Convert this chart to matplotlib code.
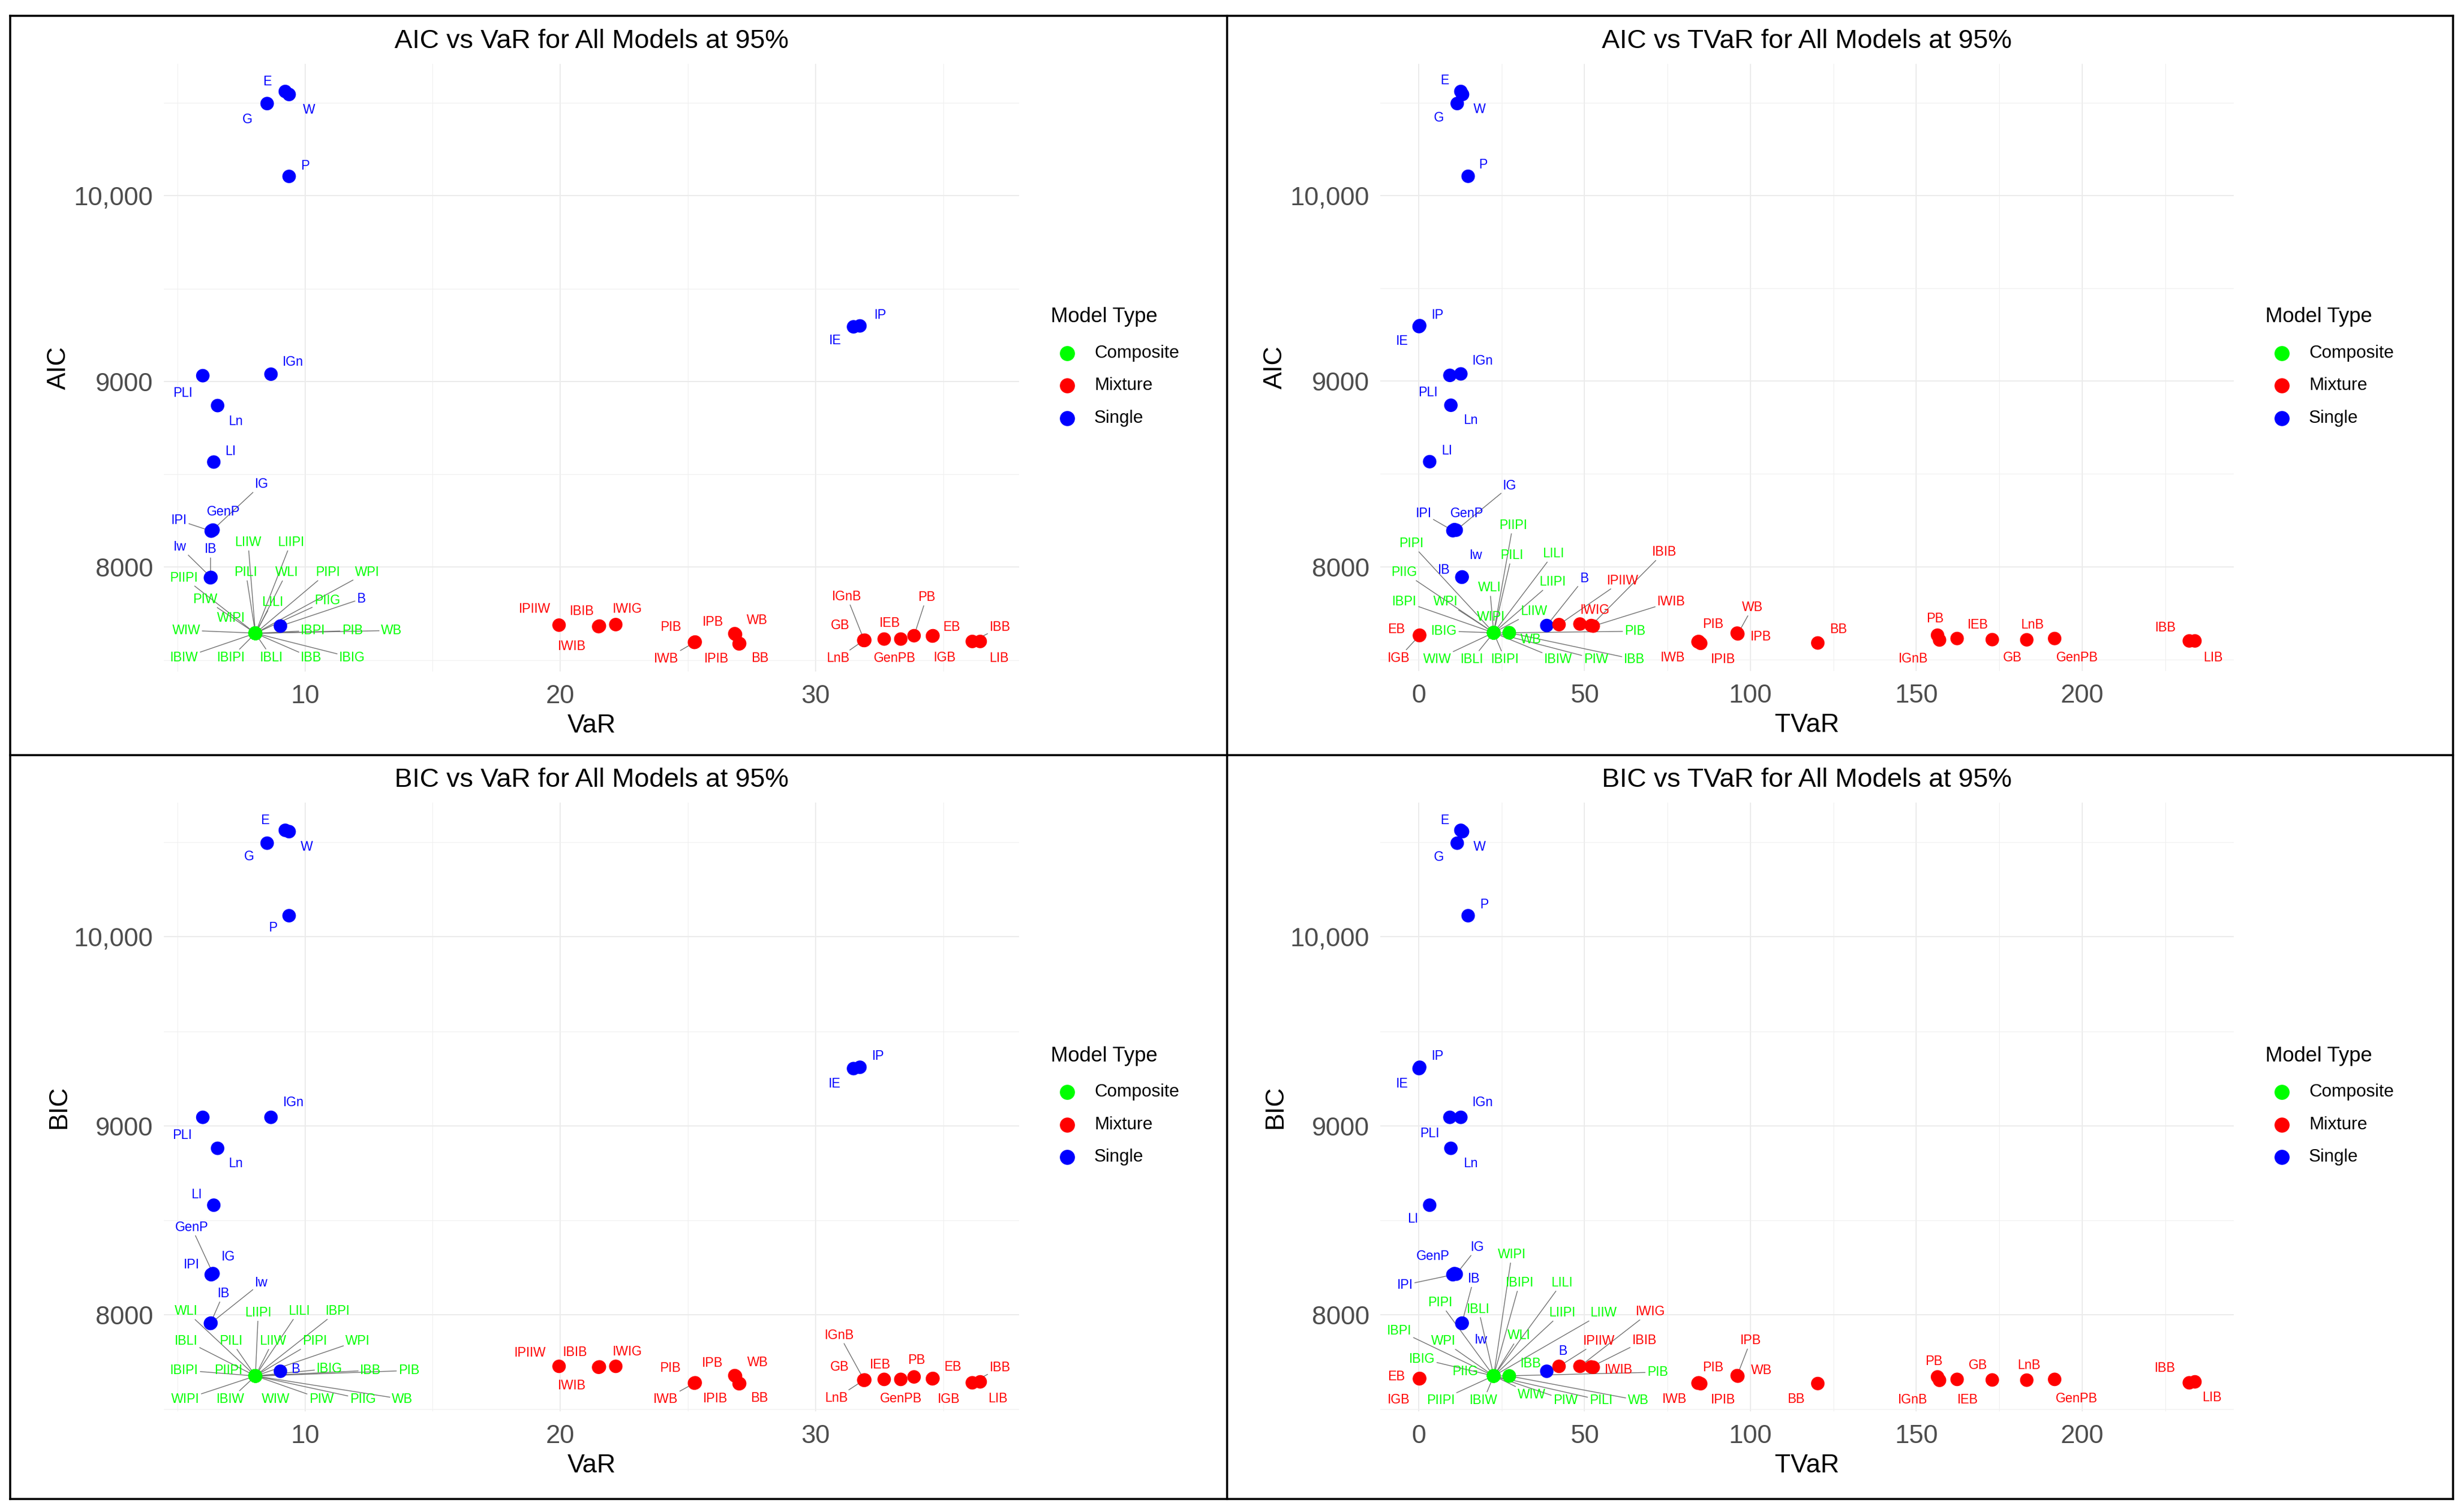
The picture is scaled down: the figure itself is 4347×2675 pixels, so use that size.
import matplotlib
matplotlib.use("Agg")
import matplotlib.pyplot as plt
from matplotlib.lines import Line2D
from matplotlib.ticker import FuncFormatter
import numpy as np

plt.rcParams['font.family'] = ['Liberation Sans', 'DejaVu Sans']

W, H = 4347, 2675
DPI = 200

# ============================================
# DATA
# ============================================
single_names = ['E', 'W', 'G', 'P', 'IP', 'IE', 'PLI', 'IGn', 'Ln', 'LI',
                'IG', 'GenP', 'IPI', 'IB', 'Iw', 'B']
single_var = [9.23, 9.38, 8.52, 9.38, 31.73, 31.48, 6.00, 8.67, 6.58, 6.43,
              6.36, 6.40, 6.33, 6.30, 6.32, 9.04]
single_tvar = [12.7, 13.2, 11.6, 14.9, 0.3, 0.1, 9.4, 12.7, 9.7, 3.3,
               11.3, 10.8, 10.3, 13.0, 13.1, 38.6]
single_aic = [10561, 10545, 10496, 10104, 9299, 9294, 9031, 9039, 8870, 8566,
              8197, 8200, 8194, 7943, 7945, 7683]
single_bic = [10564, 10557, 10496, 10112, 9310, 9303, 9045, 9045, 8881, 8580,
              8215, 8218, 8212, 7954, 7956, 7701]

comp_names = ['LIIW', 'LIIPI', 'PIIPI', 'PILI', 'WLI', 'PIPI', 'WPI', 'PIW', 'LILI', 'PIIG',
              'WIPI', 'WIW', 'IBPI', 'PIB', 'WB', 'IBIW', 'IBIPI', 'IBLI', 'IBB', 'IBIG']
comp_var = [8.06, 8.06, 8.05, 8.06, 8.07, 8.06, 8.06, 8.05, 8.06, 8.06,
            8.06, 8.05, 8.06, 8.07, 8.06, 8.06, 8.06, 8.05, 8.06, 8.06]
comp_tvar = [22.6, 22.6, 22.6, 22.6, 22.6, 22.6, 22.6, 22.6, 22.6, 22.6,
             22.6, 22.6, 22.6, 22.6, 27.3, 22.6, 22.6, 22.6, 27.3, 22.6]
comp_aic = [7644, 7644, 7645, 7644, 7643, 7644, 7644, 7645, 7644, 7644,
            7644, 7645, 7644, 7643, 7644, 7644, 7644, 7645, 7644, 7644]
comp_bic = [7676, 7676, 7677, 7676, 7675, 7676, 7676, 7677, 7676, 7676,
            7676, 7677, 7676, 7675, 7676, 7676, 7676, 7677, 7676, 7676]

mix_names = ['IPIIW', 'IBIB', 'IWIB', 'IWIG', 'PIB', 'IWB', 'IPB', 'WB', 'IPIB', 'BB',
             'IGnB', 'GB', 'LnB', 'IEB', 'GenPB', 'PB', 'EB', 'IGB', 'IBB', 'LIB']
mix_var = [19.95, 21.53, 21.50, 22.17, 25.28, 25.25, 26.83, 26.86, 27.00, 27.02,
           31.90, 31.92, 31.88, 32.68, 33.33, 33.85, 34.59, 34.57, 36.13, 36.44]
mix_tvar = [42.3, 52.0, 52.6, 48.6, 84.4, 84.2, 96.0, 96.2, 85.0, 120.3,
            157.0, 172.9, 183.3, 162.3, 191.7, 156.4, 0.3, 0.2, 232.3, 234.0]
mix_aic = [7688, 7683, 7680, 7691, 7597, 7595, 7642, 7638, 7587, 7589,
           7605, 7607, 7606, 7613, 7613, 7631, 7631, 7629, 7600, 7600]
mix_bic = [7727, 7724, 7722, 7727, 7640, 7638, 7678, 7675, 7635, 7636,
           7653, 7655, 7654, 7658, 7658, 7671, 7663, 7661, 7640, 7645]

type_colors = {'Composite': '#00FF00', 'Mixture': '#FF0000', 'Single': '#0000FF'}

names = single_names + comp_names + mix_names
types = ['Single'] * len(single_names) + ['Composite'] * len(comp_names) + ['Mixture'] * len(mix_names)
cols = {
    'VaR': single_var + comp_var + mix_var,
    'TVaR': single_tvar + comp_tvar + mix_tvar,
    'AIC': single_aic + comp_aic + mix_aic,
    'BIC': single_bic + comp_bic + mix_bic,
}

# ============================================
# LABEL PLACEMENT (pixel offsets from each point, like ggrepel did it)
# ============================================
off_aic_var = {
    'S:E': (-32, 17), 'S:W': (35, -27), 'S:G': (-35, -28), 'S:P': (28, 19), 'S:IP': (36, 19),
    'S:IE': (-32, -24), 'S:PLI': (-35, -31), 'S:IGn': (39, 22), 'S:Ln': (32, -28), 'S:LI': (29, 19),
    'S:IG': (88, 82), 'S:GenP': (18, 32), 'S:IPI': (-57, 19), 'S:IB': (0, 51), 'S:Iw': (-55, 54),
    'S:B': (143, 48),
    'C:LIIW': (-13, 161), 'C:LIIPI': (63, 161), 'C:PIIPI': (-126, 98), 'C:PILI': (-17, 108),
    'C:WLI': (55, 108), 'C:PIPI': (128, 108), 'C:WPI': (198, 108), 'C:PIW': (-89, 60),
    'C:LILI': (30, 55), 'C:PIIG': (127, 58), 'C:WIPI': (-43, 27), 'C:WIW': (-122, 5),
    'C:IBPI': (102, 5), 'C:PIB': (171, 5), 'C:WB': (241, 5), 'C:IBIW': (-126, -43),
    'C:IBIPI': (-43, -43), 'C:IBLI': (29, -43), 'C:IBB': (99, -43), 'C:IBIG': (171, -43),
    'M:IPIIW': (-43, 28), 'M:IBIB': (-31, 26), 'M:IWIG': (21, 27), 'M:IWIB': (-47, -35),
    'M:PIB': (-43, 26), 'M:IWB': (-50, -29), 'M:IPB': (-39, 21), 'M:WB': (38, 25),
    'M:IPIB': (-40, -26), 'M:BB': (36, -26), 'M:IGnB': (-31, 78), 'M:GB': (-43, 26),
    'M:LnB': (-46, -32), 'M:IEB': (10, 28), 'M:GenPB': (-11, -34), 'M:PB': (22, 68),
    'M:EB': (33, 15), 'M:IGB': (22, -38), 'M:IBB': (49, 25), 'M:LIB': (33, -30),
}
off_aic_tvar = {
    'S:E': (-29, 19), 'S:W': (30, -26), 'S:G': (-32, -25), 'S:P': (26, 20), 'S:IP': (32, 19),
    'S:IE': (-30, -26), 'S:PLI': (-39, -30), 'S:IGn': (39, 23), 'S:Ln': (35, -27), 'S:LI': (30, 19),
    'S:IG': (95, 78), 'S:GenP': (22, 28), 'S:IPI': (-52, 30), 'S:IB': (-32, 13), 'S:Iw': (24, 38),
    'S:B': (66, 83),
    'C:PIPI': (-146, 158), 'C:PIIPI': (34, 190), 'C:PILI': (32, 137), 'C:LILI': (106, 140),
    'C:PIIG': (-159, 107), 'C:WLI': (-7, 80), 'C:LIIPI': (104, 90), 'C:IBPI': (-158, 55),
    'C:WPI': (-85, 55), 'C:WIPI': (-5, 28), 'C:LIIW': (71, 38), 'C:IBIG': (-88, 3),
    'C:PIB': (250, 3), 'C:WB': (38, -12), 'C:WIW': (-100, -47), 'C:IBLI': (-38, -47),
    'C:IBIPI': (20, -47), 'C:IBIW': (114, -47), 'C:PIW': (181, -47), 'C:IBB': (221, -47),
    'M:IPIIW': (113, 78), 'M:IBIB': (129, 130), 'M:IWIB': (138, 43), 'M:IWIG': (27, 25),
    'M:EB': (-41, 10), 'M:IGB': (-37, -40), 'M:PIB': (25, 30), 'M:IWB': (-45, -28),
    'M:IPIB': (40, -28), 'M:WB': (26, 47), 'M:IPB': (42, -6), 'M:BB': (36, 24),
    'M:PB': (-4, 29), 'M:IEB': (37, 24), 'M:IGnB': (-46, -33), 'M:GB': (36, -32),
    'M:LnB': (10, 26), 'M:GenPB': (40, -34), 'M:IBB': (-42, 23), 'M:LIB': (32, -30),
}
off_bic_var = {
    'S:E': (-36, 17), 'S:W': (31, -27), 'S:G': (-32, -24), 'S:P': (-29, -21), 'S:IP': (32, 20),
    'S:IE': (-33, -27), 'S:PLI': (-36, -32), 'S:IGn': (40, 26), 'S:Ln': (32, -27), 'S:LI': (-31, 19),
    'S:GenP': (-38, 82), 'S:IG': (29, 31), 'S:IPI': (-35, 18), 'S:IB': (23, 53), 'S:Iw': (89, 71),
    'S:B': (27, 3),
    'C:WLI': (-123, 115), 'C:LIIPI': (5, 112), 'C:LILI': (77, 115), 'C:IBPI': (146, 115),
    'C:IBLI': (-122, 62), 'C:PILI': (-43, 62), 'C:LIIW': (31, 62), 'C:PIPI': (105, 62),
    'C:WPI': (181, 62), 'C:IBIPI': (-126, 10), 'C:PIIPI': (-47, 10), 'C:IBIG': (131, 13),
    'C:IBB': (204, 10), 'C:PIB': (271, 10), 'C:WIPI': (-124, -41), 'C:IBIW': (-44, -41),
    'C:WIW': (36, -41), 'C:PIW': (117, -41), 'C:PIIG': (190, -41), 'C:WB': (260, -41),
    'M:IPIIW': (-51, 24), 'M:IBIB': (-43, 26), 'M:IWIG': (21, 26), 'M:IWIB': (-47, -33),
    'M:PIB': (-44, 26), 'M:IWB': (-51, -28), 'M:IPB': (-40, 22), 'M:WB': (39, 24),
    'M:IPIB': (-42, -26), 'M:BB': (35, -26), 'M:IGnB': (-44, 80), 'M:GB': (-44, 23),
    'M:LnB': (-49, -32), 'M:IEB': (-7, 26), 'M:GenPB': (0, -34), 'M:PB': (4, 30),
    'M:EB': (35, 20), 'M:IGB': (29, -36), 'M:IBB': (49, 27), 'M:LIB': (31, -30),
}
off_bic_tvar = {
    'S:E': (-29, 17), 'S:W': (30, -27), 'S:G': (-32, -25), 'S:P': (28, 20), 'S:IP': (32, 20),
    'S:IE': (-30, -27), 'S:PLI': (-36, -29), 'S:IGn': (39, 26), 'S:Ln': (35, -27), 'S:LI': (-30, -24),
    'S:IG': (38, 48), 'S:GenP': (-38, 31), 'S:IPI': (-85, -18), 'S:IB': (21, 79), 'S:Iw': (33, -30),
    'S:B': (28, 35),
    'C:WIPI': (32, 215), 'C:IBIPI': (46, 165), 'C:LILI': (121, 165), 'C:PIPI': (-95, 130),
    'C:IBLI': (-27, 118), 'C:LIIPI': (121, 112), 'C:LIIW': (194, 112), 'C:IBPI': (-167, 80),
    'C:WPI': (-89, 62), 'C:WLI': (45, 72), 'C:IBIG': (-127, 30), 'C:PIIG': (-51, 8),
    'C:IBB': (38, 22), 'C:PIB': (290, 7), 'C:PIIPI': (-94, -43), 'C:IBIW': (-18, -43),
    'C:WIW': (67, -33), 'C:PIW': (127, -43), 'C:PILI': (190, -43), 'C:WB': (228, -43),
    'M:IPIIW': (71, 45), 'M:IWIG': (125, 97), 'M:IBIB': (94, 47), 'M:IWIB': (45, -5),
    'M:EB': (-41, 3), 'M:IGB': (-37, -37), 'M:IWB': (-42, -28), 'M:IPIB': (40, -28),
    'M:PIB': (25, 27), 'M:IPB': (24, 62), 'M:WB': (42, 10), 'M:BB': (-39, -28),
    'M:PB': (-6, 28), 'M:IGnB': (-47, -34), 'M:IEB': (19, -36), 'M:GB': (-25, 26),
    'M:LnB': (4, 26), 'M:GenPB': (39, -34), 'M:IBB': (-43, 26), 'M:LIB': (30, -28),
}

panels = [
    dict(xcol='VaR', ycol='AIC', box=(290, 113, 1803, 1188), offs=off_aic_var),
    dict(xcol='TVaR', ycol='AIC', box=(2442, 113, 3952, 1187), offs=off_aic_tvar),
    dict(xcol='VaR', ycol='BIC', box=(290, 1420, 1803, 2497), offs=off_bic_var),
    dict(xcol='TVaR', ycol='BIC', box=(2442, 1420, 3952, 2497), offs=off_bic_tvar),
]
xticks = {'VaR': ([10, 20, 30], [5, 15, 25, 35]),
          'TVaR': ([0, 50, 100, 150, 200], [25, 75, 125, 175, 225])}
yticks = ([8000, 9000, 10000], [7500, 8500, 9500, 10500])


def fx(px):
    return px / W


def fy(py):
    return 1 - py / H


def y_fmt(v, pos):
    return f'{v:,.0f}' if v >= 10000 else f'{v:.0f}'


fig = plt.figure(figsize=(W / DPI, H / DPI), dpi=DPI)
fig.patch.set_facecolor('white')

all_labels = []
for p in panels:
    l, t, r, b = p['box']
    ax = fig.add_axes([fx(l), fy(b), (r - l) / W, (b - t) / H])
    ax.set_facecolor('white')
    for s in ax.spines.values():
        s.set_visible(False)

    xs = np.array(cols[p['xcol']])
    ys = np.array(cols[p['ycol']])
    for ty in ['Single', 'Composite', 'Mixture']:
        m = np.array([tt == ty for tt in types])
        ax.scatter(xs[m], ys[m], s=74, color=type_colors[ty], edgecolors='none', zorder=3)

    ax.set_xlim(ax.get_xlim())
    ax.set_ylim(ax.get_ylim())

    maj, mnr = xticks[p['xcol']]
    ax.set_xticks(maj)
    ax.set_xticks(mnr, minor=True)
    ax.set_yticks(yticks[0])
    ax.set_yticks(yticks[1], minor=True)
    ax.yaxis.set_major_formatter(FuncFormatter(y_fmt))
    ax.grid(which='major', color='#EBEBEB', linewidth=0.75, zorder=0)
    ax.grid(which='minor', color='#EFEFEF', linewidth=0.4, zorder=0)
    ax.set_axisbelow(True)
    ax.tick_params(which='both', length=0)
    ax.tick_params(axis='x', labelsize=16.5, labelcolor='#4D4D4D', pad=8)
    ax.tick_params(axis='y', labelsize=16.5, labelcolor='#4D4D4D', pad=7)

    # titles
    cx = (l + r) / 2
    fig.text(fx(cx), fy(t - 40), f"{p['ycol']} vs {p['xcol']} for All Models at 95%",
             ha='center', va='center', fontsize=17, color='black')
    fig.text(fx(cx), fy(b + 96), p['xcol'], ha='center', va='center', fontsize=16.5)
    fig.text(fx(l - 186), fy((t + b) / 2), p['ycol'], ha='center', va='center',
             rotation=90, fontsize=16.5)

    # legend
    fig.text(fx(r + 56), fy(t + 448), 'Model Type', ha='left', va='center', fontsize=13.2)
    for k, ty in enumerate(['Composite', 'Mixture', 'Single']):
        yy = t + 512 + k * 57.5
        fig.add_artist(Line2D([fx(r + 85)], [fy(yy)], marker='o', markersize=8.6,
                              color=type_colors[ty], linestyle='none',
                              transform=fig.transFigure))
        fig.text(fx(r + 133), fy(yy), ty, ha='left', va='center', fontsize=11.3)

    # point labels
    for i, nm in enumerate(names):
        key = types[i][0] + ':' + nm
        dx, dy = p['offs'][key]
        a = ax.annotate(nm, xy=(xs[i], ys[i]), xytext=(dx, dy), textcoords='offset pixels',
                        ha='center', va='center', color=type_colors[types[i]],
                        fontsize=8.3, zorder=5, annotation_clip=False)
        all_labels.append((ax, a, xs[i], ys[i]))

# ============================================
# connector segments for labels pushed away from their point
# ============================================
fig.canvas.draw()
renderer = fig.canvas.get_renderer()
for ax, a, x0, y0 in all_labels:
    bb = a.get_window_extent(renderer)
    px, py = ax.transData.transform((x0, y0))
    pad = 3
    x_lo, x_hi = bb.x0 - pad, bb.x1 + pad
    y_lo, y_hi = bb.y0 - pad, bb.y1 + pad
    gx = max(x_lo - px, 0, px - x_hi)
    gy = max(y_lo - py, 0, py - y_hi)
    if np.hypot(gx, gy) < 28:
        continue
    cx, cy = (x_lo + x_hi) / 2, (y_lo + y_hi) / 2
    hw, hh = (x_hi - x_lo) / 2, (y_hi - y_lo) / 2
    vx, vy = px - cx, py - cy
    tx = hw / abs(vx) if vx != 0 else np.inf
    ty_ = hh / abs(vy) if vy != 0 else np.inf
    tt = min(tx, ty_)
    ex, ey = cx + tt * vx, cy + tt * vy
    inv = ax.transData.inverted()
    (dx0, dy0), (dx1, dy1) = inv.transform([(px, py), (ex, ey)])
    ax.plot([dx0, dx1], [dy0, dy1], color='#6E6E6E', linewidth=0.5, zorder=2,
            clip_on=False, solid_capstyle='butt')

# panel borders
lw_b = 1.3
xs_b = [18, 2171, 4340]
ys_b = [28, 1336, 2652]
for xb in xs_b:
    fig.add_artist(Line2D([fx(xb), fx(xb)], [fy(ys_b[0]), fy(ys_b[-1])], color='black',
                          linewidth=lw_b, transform=fig.transFigure))
for yb in ys_b:
    fig.add_artist(Line2D([fx(xs_b[0]), fx(xs_b[-1])], [fy(yb), fy(yb)], color='black',
                          linewidth=lw_b, transform=fig.transFigure))

fig.savefig('out.png', dpi=DPI, facecolor='white')
